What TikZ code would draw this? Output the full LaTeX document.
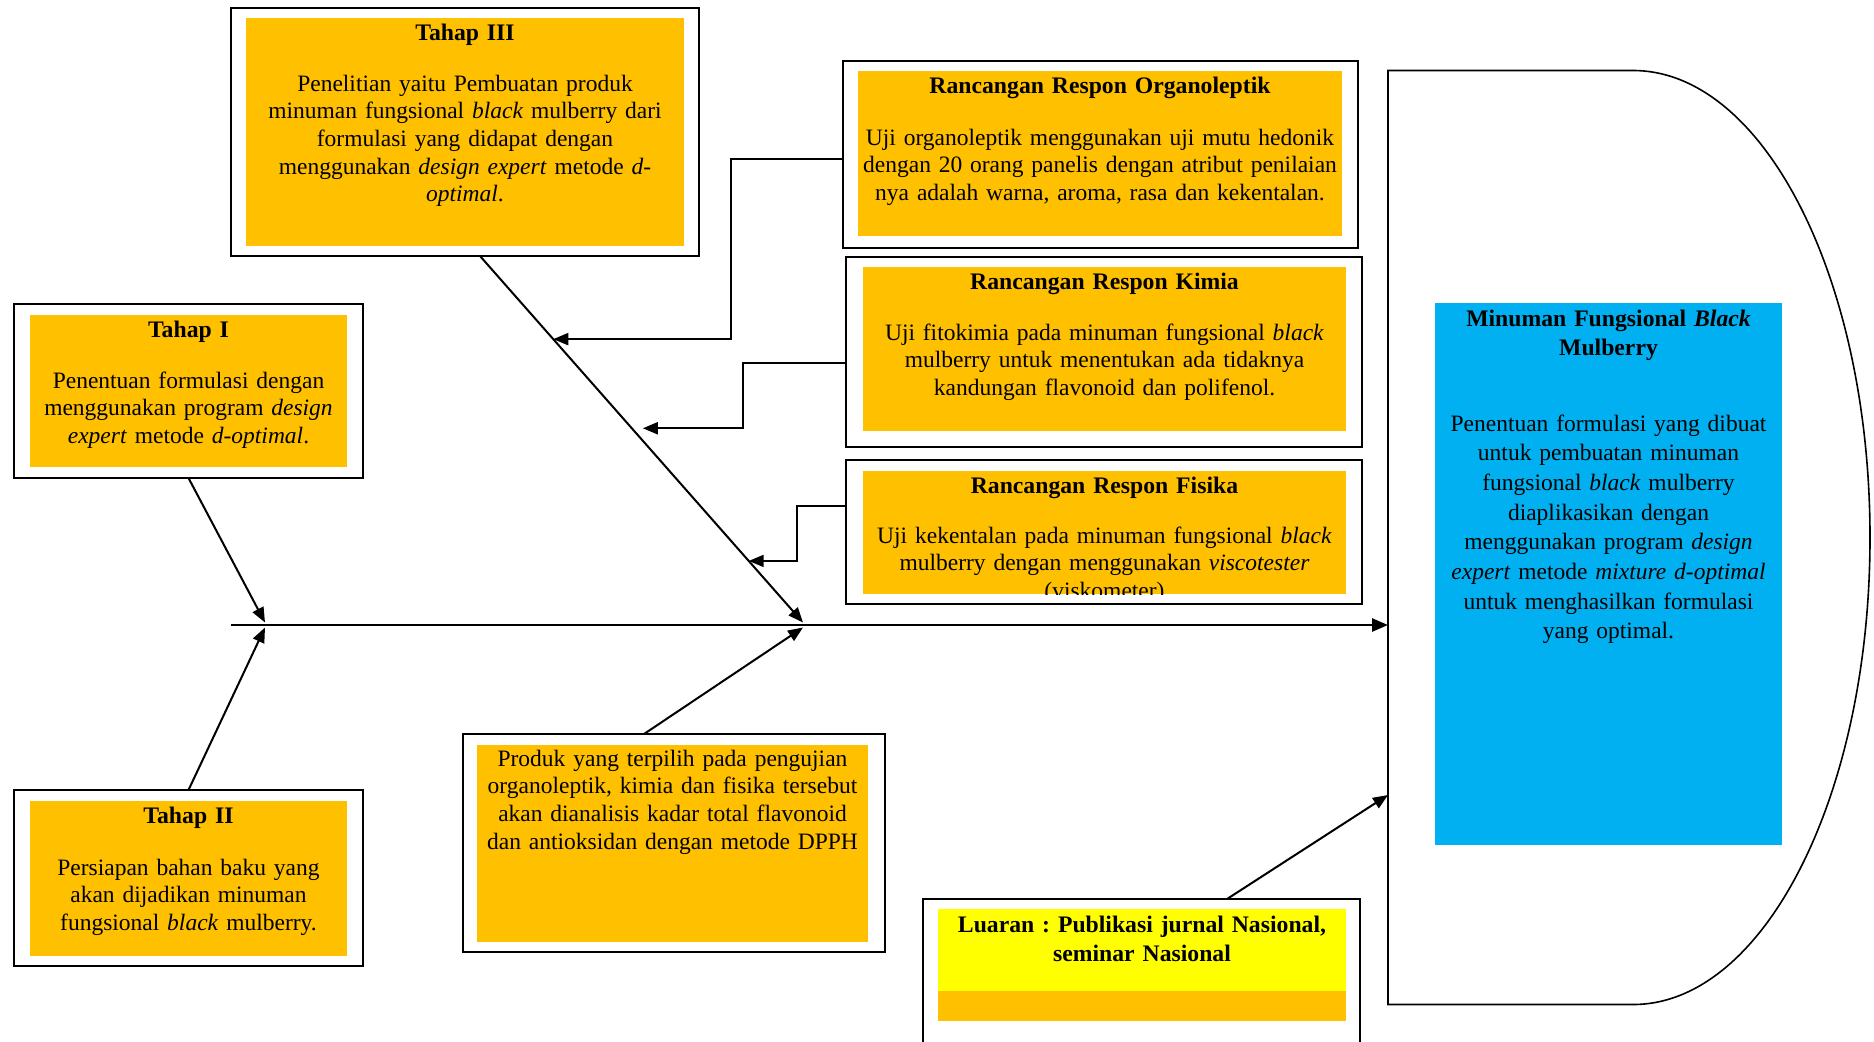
\documentclass[tikz,border=0pt]{standalone}
\usepackage{fontspec}
\setmainfont{Liberation Serif}
\usetikzlibrary{arrows.meta,calc}
\definecolor{gold}{HTML}{FFC000}
\definecolor{skyb}{HTML}{00B0F0}
\definecolor{yel}{HTML}{FFFF00}
\frenchspacing
\begin{document}
\begin{tikzpicture}[x=0.5pt,y=-0.5pt,
  obox/.style 2 args={draw=black,line width=0.9pt,minimum width=#1*0.5pt,minimum height=#2*0.5pt,inner sep=0pt,outer sep=0pt},
  ibox/.style n args={3}{fill=#3,minimum width=#1*0.5pt,minimum height=#2*0.5pt,inner sep=0pt,outer sep=0pt},
  txt/.style={anchor=base,inner sep=0pt,align=center,text width=250pt,font=\fontsize{11.75pt}{13.85pt}\selectfont},
  txtb/.style={anchor=base,inner sep=0pt,align=center,text width=250pt,font=\fontsize{11.75pt}{14.85pt}\selectfont},
  ttl/.style={anchor=base,inner sep=0pt,align=center,text width=250pt,font=\fontsize{11.85pt}{14.6pt}\selectfont\bfseries},
  spine/.style={line width=1.3pt,-{Triangle[length=8pt,width=6.5pt]}},
  arr/.style={line width=1pt,-{Triangle[length=7.5pt,width=6pt]}},
]
\useasboundingbox (0,0) rectangle (1874,1041);
\clip (0,0) rectangle (1874,1041);
\fill[white] (0,0) rectangle (1874,1041);

% ---- Tahap III
\node[obox={468}{248}] (t3) at (465,132) {};
\node[ibox={438}{228}{gold}] (t3in) at (465,132) {};
\node[ttl] (t3t) at (465,40.7) {Tahap III};
\node[txt] (t3b) at (465,91) {Penelitian yaitu Pembuatan produk\\
minuman fungsional \textit{black} mulberry dari\\
formulasi yang didapat dengan\\
menggunakan \textit{design expert} metode \textit{d-}\\
\textit{optimal}.};

% ---- Tahap I
\node[obox={349}{174}] (t1) at (188.5,391) {};
\node[ibox={317}{152}{gold}] (t1in) at (188.5,391) {};
\node[ttl] (t1t) at (188.5,337) {Tahap I};
\node[txt] (t1b) at (188.5,388) {Penentuan formulasi dengan\\
menggunakan program \textit{design}\\
\textit{expert} metode \textit{d-optimal}.};

% ---- Tahap II
\node[obox={349}{176}] (t2) at (188.5,878) {};
\node[ibox={317}{155}{gold}] (t2in) at (188.5,878) {};
\node[ttl] (t2t) at (188.5,823) {Tahap II};
\node[txt] (t2b) at (188.5,875) {Persiapan bahan baku yang\\
akan dijadikan minuman\\
fungsional \textit{black} mulberry.};

% ---- Organoleptik
\node[obox={515}{187}] (org) at (1100.5,154.5) {};
\node[ibox={484}{165}{gold}] (orgin) at (1100,153.5) {};
\node[ttl] (orgt) at (1100,93) {Rancangan Respon Organoleptik};
\node[txt] (orgb) at (1100,145) {Uji organoleptik menggunakan uji mutu hedonik\\
dengan 20 orang panelis dengan atribut penilaian\\
nya adalah warna, aroma, rasa dan kekentalan.};

% ---- Kimia
\node[obox={516}{190}] (kim) at (1104,352) {};
\node[ibox={483}{164}{gold}] (kimin) at (1104.5,349) {};
\node[ttl] (kimt) at (1104.5,289) {Rancangan Respon Kimia};
\node[txt] (kimb) at (1104.5,340) {Uji fitokimia pada minuman fungsional \textit{black}\\
mulberry untuk menentukan ada tidaknya\\
kandungan flavonoid dan polifenol.};

% ---- Fisika
\node[obox={516}{144}] (fis) at (1104,532) {};
\node[ibox={483}{123}{gold}] (fisin) at (1104.5,532.5) {};
\begin{scope}
\clip (863,471) rectangle (1346,594);
\node[ttl] (fist) at (1104.5,493) {Rancangan Respon Fisika};
\node[txt] (fisb) at (1104.5,543) {Uji kekentalan pada minuman fungsional \textit{black}\\
mulberry dengan menggunakan \textit{viscotester}\\
(viskometer)};
\end{scope}

% ---- Produk
\node[obox={422}{218}] (prod) at (674,843) {};
\node[ibox={391}{197}{gold}] (prodin) at (672.5,843.5) {};
\node[txt] (prodb) at (672.5,766) {Produk yang terpilih pada pengujian\\
organoleptik, kimia dan fisika tersebut\\
akan dianalisis kadar total flavonoid\\
dan antioksidan dengan metode DPPH};

% ---- Luaran
\node[obox={437}{171}] (lua) at (1141.5,984.5) {};
\node[ibox={408}{82}{yel}] (luain) at (1142,950) {};
\node[ibox={408}{30}{gold}] (luastrip) at (1142,1006) {};
\node[ttl] (luat) at (1142,932) {Luaran : Publikasi jurnal Nasional,\\ seminar Nasional};

% ---- D shape (result)
\draw[line width=0.8pt] (1388,70.5) -- (1633,70.5)
  .. controls (1764,70.5) and (1870,279.6) .. (1870,537.5)
  .. controls (1870,795.4) and (1764,1004.5) .. (1633,1004.5)
  -- (1388,1004.5) -- cycle;
\node[ibox={347}{542}{skyb}] (blue) at (1608.5,573.5) {};
\node[ttl,font=\fontsize{11.85pt}{14.5pt}\selectfont\bfseries] (bluet) at (1608.5,326) {Minuman Fungsional \textit{Black}\\ Mulberry};
\node[txtb] (blueb) at (1608.5,431) {Penentuan formulasi yang dibuat\\
untuk pembuatan minuman\\
fungsional \textit{black} mulberry\\
diaplikasikan dengan\\
menggunakan program \textit{design}\\
\textit{expert} metode \textit{mixture d-optimal}\\
untuk menghasilkan formulasi\\
yang optimal.};

% ---- coordinates
\coordinate (spL) at (231,625);
\coordinate (dspine) at (1388,625);
\coordinate (dlua) at (1388,795);
\coordinate (j1a) at (265,622.5);
\coordinate (j1b) at (265,627.5);
\coordinate (j2a) at (803,622.5);
\coordinate (j2b) at (803,627.5);
\coordinate (t3s) at ($(t3.south)+(15,0)$);
\coordinate (bo) at ($(t3s)!0.2268!(j2a)$);
\coordinate (bk) at ($(t3s)!0.470!(j2a)$);
\coordinate (bf) at ($(t3s)!0.832!(j2a)$);
\coordinate (oa) at ($(org.west)+(0,4.5)$);
\coordinate (ka) at ($(kim.west)+(0,11)$);
\coordinate (fa) at ($(fis.west)+(0,-26)$);

% ---- connectors
\draw[spine] (spL) -- (dspine);
\draw[arr] (t1.south) -- (j1a);
\draw[arr] (t2.north) -- (j1b);
\draw[arr] (t3s) -- (j2a);
\draw[arr] ($(prod.north)+(-30,0)$) -- (j2b);
\draw[arr] ($(lua.north)+(85.5,0)$) -- (dlua);
\draw[arr] (oa) -- ++(-112,0) |- (bo);
\draw[arr] (ka) -- ++(-103,0) |- ($(bk)+(11,0)$);
\draw[arr] (fa) -- ++(-49,0) |- (bf);
\end{tikzpicture}
\end{document}
